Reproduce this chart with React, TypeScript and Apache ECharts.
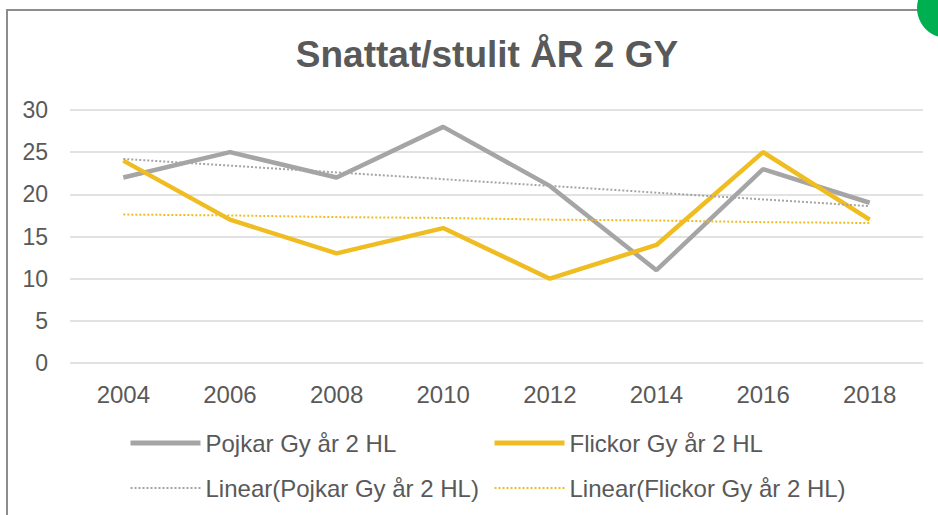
import React, { useEffect, useRef } from "react";
import * as echarts from "echarts";

const titleText = "Snattat/stulit ÅR 2 GY";
const years = ["2004", "2006", "2008", "2010", "2012", "2014", "2016", "2018"];
const pojkar = [22, 25, 22, 28, 21, 11, 23, 19];
const flickor = [24, 17, 13, 16, 10, 14, 25, 17];
const pojkarTrend = [24.2, 23.4, 22.6, 21.8, 21.0, 20.2, 19.4, 18.6];
const flickorTrend = [17.6, 17.5, 17.3, 17.2, 17.0, 16.9, 16.7, 16.6];
const seriesNames = [
  "Pojkar Gy år 2 HL",
  "Flickor Gy år 2 HL",
  "Linear(Pojkar Gy år 2 HL)",
  "Linear(Flickor Gy år 2 HL)",
];

const FONT = "'Liberation Sans', Arial, sans-serif";
const GRAY = "#a5a5a5";
const GOLD = "#efbd22";
const TEXT = "#595959";

const legendItem = (name: string, color: string, width: number, dotted: boolean) => ({
  name,
  itemStyle: { opacity: 0 },
  lineStyle: { color, width, type: dotted ? [2, 2] : "solid" },
});

export default function App() {
  const ref = useRef<HTMLDivElement>(null);
  useEffect(() => {
    if (!ref.current) return;
    const chart = echarts.init(ref.current, undefined, { renderer: "svg" });
    const legendBase = {
      orient: "vertical",
      top: 431,
      padding: 0,
      itemWidth: 70,
      itemHeight: 24,
      itemGap: 21,
      itemStyle: { opacity: 0 },
      textStyle: { fontFamily: FONT, fontSize: 24, color: TEXT, lineHeight: 24 },
    };
    chart.setOption({
      animation: false,
      backgroundColor: "#ffffff",
      title: {
        text: titleText,
        left: 482,
        top: 31,
        textAlign: "center",
        textStyle: { fontFamily: FONT, fontSize: 37, fontWeight: "bold", color: TEXT },
      },
      graphic: [
        {
          type: "rect",
          shape: { x: 7, y: 10, width: 1100, height: 700 },
          style: { fill: "none", stroke: "#8c8c8c", lineWidth: 2 },
          silent: true,
        },
        {
          type: "circle",
          shape: { cx: 947, cy: 8, r: 30 },
          style: { fill: "#00b050" },
          silent: true,
        },
      ],
      grid: { left: 70, right: 15, top: 110, bottom: 152 },
      xAxis: {
        type: "category",
        data: years,
        boundaryGap: true,
        axisLine: { show: false },
        axisTick: { show: false },
        axisLabel: { margin: 19, fontFamily: FONT, fontSize: 24, color: TEXT },
      },
      yAxis: {
        type: "value",
        min: 0,
        max: 30,
        interval: 5,
        axisLine: { show: false },
        axisTick: { show: false },
        axisLabel: { margin: 22, fontFamily: FONT, fontSize: 23, color: TEXT },
        splitLine: { lineStyle: { color: "#d9d9d9", width: 1.5 } },
      },
      legend: [
        {
          ...legendBase,
          left: 128,
          data: [
            legendItem(seriesNames[0], GRAY, 5, false),
            legendItem(seriesNames[2], GRAY, 2, true),
          ],
        },
        {
          ...legendBase,
          left: 492,
          data: [
            legendItem(seriesNames[1], GOLD, 5, false),
            legendItem(seriesNames[3], GOLD, 2, true),
          ],
        },
      ],
      series: [
        {
          name: seriesNames[0],
          type: "line",
          data: pojkar,
          symbol: "none",
          color: GRAY,
          lineStyle: { color: GRAY, width: 4.5 },
          z: 2,
        },
        {
          name: seriesNames[1],
          type: "line",
          data: flickor,
          symbol: "none",
          color: GOLD,
          lineStyle: { color: GOLD, width: 4.5 },
          z: 3,
        },
        {
          name: seriesNames[2],
          type: "line",
          data: pojkarTrend,
          symbol: "none",
          color: GRAY,
          lineStyle: { color: GRAY, width: 2, type: [2, 2] },
          z: 4,
        },
        {
          name: seriesNames[3],
          type: "line",
          data: flickorTrend,
          symbol: "none",
          color: GOLD,
          lineStyle: { color: GOLD, width: 2, type: [2, 2] },
          z: 4,
        },
      ],
    });
    return () => chart.dispose();
  }, []);
  return (
    <div
      ref={ref}
      style={{ position: "fixed", left: 0, top: 0, width: 938, height: 515 }}
    />
  );
}
